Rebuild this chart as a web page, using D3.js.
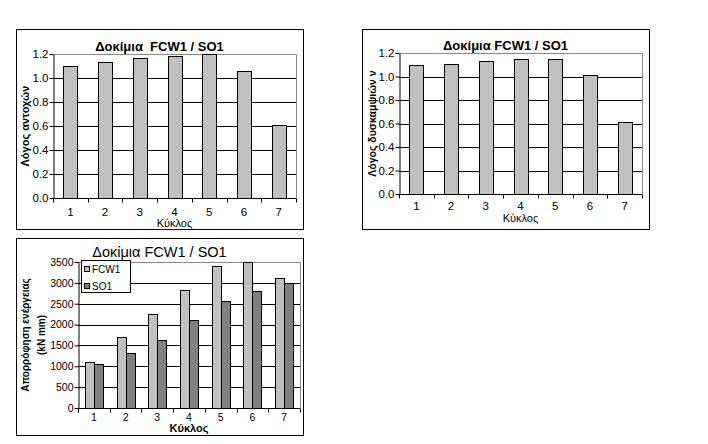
<!DOCTYPE html>
<html>
<head>
<meta charset="utf-8">
<script src="https://d3js.org/d3.v7.min.js"></script>
<style>
  body { margin: 0; background: #fff; }
  text { font-family: "Liberation Sans", Arial, sans-serif; fill: #000; }
</style>
</head>
<body>
<svg id="vis" width="708" height="444"></svg>
<script>
// data
var cycles = ["1", "2", "3", "4", "5", "6", "7"];
var strengthRatio = [1.10, 1.13, 1.17, 1.18, 1.20, 1.06, 0.61];
var stiffnessRatio = [1.10, 1.11, 1.135, 1.145, 1.15, 1.015, 0.61];
var energyFCW1 = [1110, 1710, 2260, 2840, 3410, 3490, 3110];
var energySO1 = [1045, 1315, 1630, 2115, 2575, 2815, 2990];
var ratioTicks = [0, 0.2, 0.4, 0.6, 0.8, 1.0, 1.2];
var energyTicks = [0, 500, 1000, 1500, 2000, 2500, 3000, 3500];
var seriesNames = ["FCW1", "SO1"];
var seriesColors = ["#c0c0c0", "#808080"];

var svg = d3.select("#vis");

function chart(o) {
  var g = svg.append("g");

  // outer frame
  g.append("rect")
    .attr("x", o.frame[0] + 0.5).attr("y", o.frame[1] + 0.5)
    .attr("width", o.frame[2] - o.frame[0]).attr("height", o.frame[3] - o.frame[1])
    .attr("fill", "#fff").attr("stroke", "#000");

  var x = d3.scaleBand().domain(cycles).range([o.px[0], o.px[1]]);
  var y = d3.scaleLinear().domain([0, o.ticks[o.ticks.length - 1]]).range([o.py[1], o.py[0]]);

  // gridlines
  g.selectAll(".grid").data(o.ticks.slice(1, -1)).enter().append("line")
    .attr("x1", o.px[0]).attr("x2", o.px[1])
    .attr("y1", function(d) { return Math.round(y(d)) + 0.5; })
    .attr("y2", function(d) { return Math.round(y(d)) + 0.5; })
    .attr("stroke", "#000");
  // plot border top + right (grey)
  g.append("path")
    .attr("d", "M" + o.px[0] + "," + (o.py[0] + 0.5) + "H" + (o.px[1] + 0.5) + "V" + o.py[1])
    .attr("fill", "none").attr("stroke", "#888");

  // bars, excel style gap width 150%
  var n = o.series.length;
  var bw = x.bandwidth() / (n + 1.5);
  o.series.forEach(function(s, si) {
    g.selectAll(".b" + si).data(s).enter().append("rect")
      .attr("x", function(d, i) { return Math.round(x(cycles[i]) + x.bandwidth() * 0.5 - bw * n / 2 + bw * si) + 0.5; })
      .attr("y", function(d) { return Math.round(y(d)) + 0.5; })
      .attr("width", Math.round(bw))
      .attr("height", function(d) { return Math.round(y(0)) - Math.round(y(d)); })
      .attr("fill", o.colors[si]).attr("stroke", "#000").attr("stroke-width", 1);
  });

  // y axis
  var ya = g.append("g").attr("transform", "translate(" + (o.px[0] + 0.5) + ",0)")
    .call(d3.axisLeft(y).tickValues(o.ticks).tickSize(4).tickSizeOuter(0)
      .tickFormat(o.fmt));
  ya.select(".domain").attr("stroke", "#000");
  ya.selectAll("text").style("font-size", o.tickFont + "px").attr("x", -5);

  // x axis
  var xa = g.append("g").attr("transform", "translate(0," + (Math.round(y(0)) + 0.5) + ")");
  xa.append("line").attr("x1", o.px[0]).attr("x2", o.px[1]).attr("stroke", "#000");
  xa.selectAll(".xt").data(cycles.concat(["end"])).enter().append("line")
    .attr("x1", function(d, i) { return Math.round(o.px[0] + i * x.step()) + 0.5; })
    .attr("x2", function(d, i) { return Math.round(o.px[0] + i * x.step()) + 0.5; })
    .attr("y1", 0).attr("y2", 4).attr("stroke", "#000");
  xa.selectAll(".xl").data(cycles).enter().append("text")
    .attr("x", function(d) { return x(d) + x.bandwidth() / 2; })
    .attr("y", o.xlabY - y(0))
    .attr("text-anchor", "middle")
    .style("font-size", o.tickFont + "px")
    .text(function(d) { return d; });

  // titles
  g.append("text").attr("x", (o.frame[0] + o.frame[2]) / 2).attr("y", o.titleY)
    .attr("text-anchor", "middle")
    .style("font-size", o.titleFont + "px").style("font-weight", o.titleWeight)
    .style("white-space", "pre")
    .text(o.title);
  g.append("text").attr("x", (o.px[0] + o.px[1]) / 2).attr("y", o.xtitleY)
    .attr("text-anchor", "middle")
    .style("font-size", "11px").style("font-weight", o.xtitleWeight)
    .text("Κύκλος");
  o.ytitle.forEach(function(t, i) {
    g.append("text")
      .attr("transform", "translate(" + o.ytitleX[i] + "," + ((o.py[0] + o.py[1]) / 2) + ") rotate(-90)")
      .attr("text-anchor", "middle")
      .attr("dy", "0.35em")
      .style("font-size", o.ytitleFont + "px").style("font-weight", "bold")
      .text(t);
  });

  // legend
  if (o.legend) {
    var lg = g.append("g");
    lg.append("rect").attr("x", o.legend[0] + 0.5).attr("y", o.legend[1] + 0.5)
      .attr("width", o.legend[2]).attr("height", o.legend[3])
      .attr("fill", "#fff").attr("stroke", "#000");
    seriesNames.forEach(function(nm, i) {
      lg.append("rect").attr("x", o.legend[0] + 3.5).attr("y", o.legend[1] + 6.5 + i * 17)
        .attr("width", 5).attr("height", 5)
        .attr("fill", seriesColors[i]).attr("stroke", "#000");
      lg.append("text").attr("x", o.legend[0] + 11).attr("y", o.legend[1] + 13 + i * 17)
        .style("font-size", "10px").text(nm);
    });
  }
}

chart({
  frame: [16, 29, 303, 229], px: [53, 296], py: [54, 198],
  series: [strengthRatio], colors: ["#c0c0c0"], ticks: ratioTicks,
  fmt: d3.format(".1f"), tickFont: 11.5, xlabY: 215, xtitleY: 227, xtitleWeight: "normal",
  title: "Δοκίμια  FCW1 / SO1", titleY: 51, titleFont: 13, titleWeight: "bold",
  ytitle: ["Λόγος αντοχών"], ytitleX: [25], ytitleFont: 11
});

chart({
  frame: [362, 29, 649, 229], px: [399, 642], py: [53, 194],
  series: [stiffnessRatio], colors: ["#c0c0c0"], ticks: ratioTicks,
  fmt: d3.format(".1f"), tickFont: 11.5, xlabY: 209, xtitleY: 222, xtitleWeight: "normal",
  title: "Δοκίμια FCW1 / SO1", titleY: 50, titleFont: 13, titleWeight: "bold",
  ytitle: ["Λόγος δυσκαμψιών ν"], ytitleX: [372], ytitleFont: 10.5
});

chart({
  frame: [16, 238, 303, 435], px: [78, 300], py: [262, 408],
  series: [energyFCW1, energySO1], colors: seriesColors, ticks: energyTicks,
  fmt: d3.format("d"), tickFont: 10.5, xlabY: 420, xtitleY: 432, xtitleWeight: "bold",
  title: "Δοκίμια FCW1 / SO1", titleY: 257, titleFont: 14.5, titleWeight: "normal",
  ytitle: ["Απορρόφηση ενέργειας", "(kN mm)"], ytitleX: [25, 41], ytitleFont: 10,
  legend: [81, 260, 49, 32]
});
</script>
</body>
</html>
